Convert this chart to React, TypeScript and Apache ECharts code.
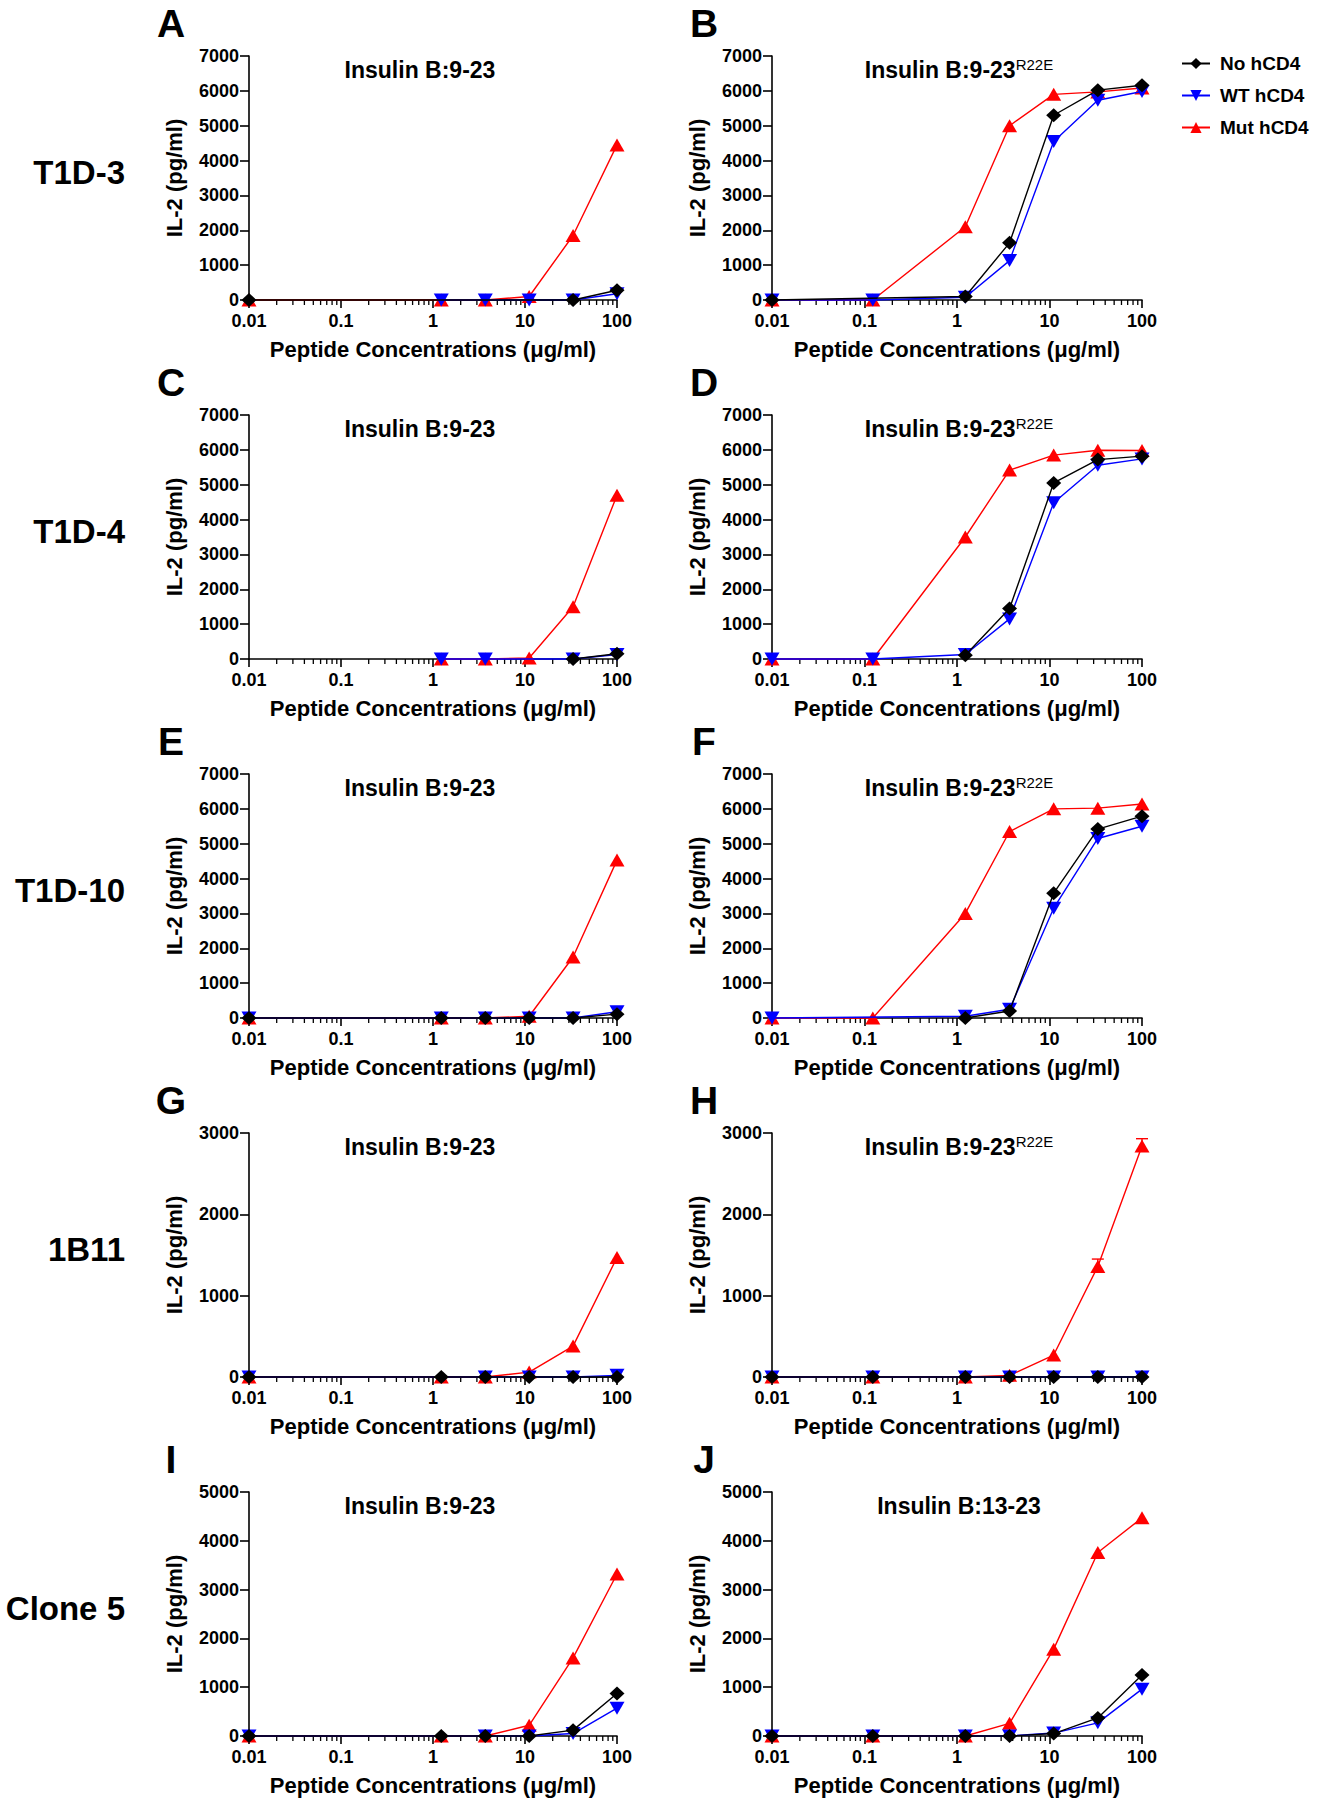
import React, { useEffect, useRef } from 'react';
import * as echarts from 'echarts';

// ---------- data ----------
const concentrations = [0.01, 0.123, 1.23, 3.7, 11.1, 33.3, 100];
const minorTickValues = [
  0.02, 0.03, 0.04, 0.05, 0.06, 0.07, 0.08, 0.09,
  0.2, 0.3, 0.4, 0.5, 0.6, 0.7, 0.8, 0.9,
  2, 3, 4, 5, 6, 7, 8, 9,
  20, 30, 40, 50, 60, 70, 80, 90,
];
const seriesNames = ['No hCD4', 'WT hCD4', 'Mut hCD4'];
const panelLetters = ['A', 'B', 'C', 'D', 'E', 'F', 'G', 'H', 'I', 'J'];
const rowLabels = ['T1D-3', 'T1D-4', 'T1D-10', '1B11', 'Clone 5'];
const panelTitleMain = [
  'Insulin B:9-23', 'Insulin B:9-23', 'Insulin B:9-23', 'Insulin B:9-23', 'Insulin B:9-23',
  'Insulin B:9-23', 'Insulin B:9-23', 'Insulin B:9-23', 'Insulin B:9-23', 'Insulin B:13-23',
];
const panelTitleSup = ['', 'R22E', '', 'R22E', '', 'R22E', '', 'R22E', '', ''];
const yMaxValues = [7000, 7000, 7000, 7000, 7000, 7000, 3000, 3000, 5000, 5000];

// values per concentration (null = no point)
const noA = [0, null, null, null, null, 0, 280];
const wtA = [null, null, 0, 0, 0, 0, 180];
const mutA = [0, null, 0, 0, 100, 1850, 4450];

const noB = [0, null, 100, 1640, 5300, 6020, 6160];
const wtB = [0, 0, 80, 1130, 4550, 5730, 5980];
const mutB = [0, 0, 2100, 5000, 5900, 5970, 6080];

const noC = [null, null, null, null, null, 0, 150];
const wtC = [null, null, 0, 0, null, 0, 130];
const mutC = [null, null, 0, 0, 30, 1500, 4700];

const noD = [null, null, 110, 1450, 5050, 5720, 5820];
const wtD = [0, 0, 130, 1150, 4480, 5560, 5740];
const mutD = [0, 0, 3500, 5420, 5850, 5990, 5980];

const noE = [0, null, 0, 0, 0, 0, 110];
const wtE = [0, null, 0, 0, 0, 0, 180];
const mutE = [0, null, 0, 0, 50, 1750, 4530];

const noF = [null, null, 0, 200, 3580, 5420, 5790];
const wtF = [0, null, 50, 250, 3150, 5150, 5500];
const mutF = [0, 0, 3000, 5350, 6000, 6020, 6140];

const noG = [0, null, 0, 0, 0, 0, 0];
const wtG = [0, null, null, 0, 0, 0, 20];
const mutG = [0, null, 0, 0, 60, 380, 1470];

const noH = [0, 0, 0, 0, 0, 0, 0];
const wtH = [0, 0, 0, 0, 0, 0, 0];
const mutH = [0, 0, 0, 20, 270, 1360, 2840];
const mutHUpper = [null, null, null, null, null, 1450, 2930];

const noI = [0, null, 0, 0, 0, 120, 870];
const wtI = [0, null, null, 0, 0, 50, 570];
const mutI = [0, null, 0, 0, 220, 1600, 3320];

const noJ = [0, 0, 0, 0, 50, 370, 1250];
const wtJ = [0, 0, 0, 0, 60, 270, 960];
const mutJ = [0, 0, 0, 260, 1780, 3760, 4470];

const panelNo = [noA, noB, noC, noD, noE, noF, noG, noH, noI, noJ];
const panelWt = [wtA, wtB, wtC, wtD, wtE, wtF, wtG, wtH, wtI, wtJ];
const panelMut = [mutA, mutB, mutC, mutD, mutE, mutF, mutG, mutH, mutI, mutJ];

// ---------- layout ----------
const FONT = 'Arial, "Liberation Sans", Helvetica, sans-serif';
const COL_LEFT = [249, 772];
const COL_WIDTH = [368, 370];
const ROW_TOP0 = 56;
const ROW_STEP = 359;
const PLOT_H = 244;
const TITLE_X = [420, 959];
const LETTER_X = [171, 704];

function toPairs(vals: (number | null)[]) {
  const out: number[][] = [];
  vals.forEach((v, j) => {
    if (v !== null && v !== undefined) out.push([concentrations[j], v]);
  });
  return out;
}

function buildOption() {
  const grids: any[] = [];
  const xAxes: any[] = [];
  const yAxes: any[] = [];
  const series: any[] = [];
  const graphics: any[] = [];

  for (let i = 0; i < 10; i++) {
    const r = Math.floor(i / 2);
    const c = i % 2;
    const top = ROW_TOP0 + ROW_STEP * r;
    grids.push({ left: COL_LEFT[c], top, width: COL_WIDTH[c], height: PLOT_H, containLabel: false });
    xAxes.push({
      type: 'log',
      logBase: 10,
      gridIndex: i,
      min: 0.01,
      max: 100,
      splitNumber: 4,
      name: 'Peptide Concentrations (\u03bcg/ml)',
      nameLocation: 'middle',
      nameGap: 38,
      nameTextStyle: { fontSize: 22, fontWeight: 'bold', color: '#000', fontFamily: FONT },
      axisLine: { show: true, onZero: false, lineStyle: { color: '#000', width: 1.6 } },
      axisTick: { show: true, length: 8, lineStyle: { color: '#000', width: 1.6 } },
      axisLabel: { fontSize: 18, fontWeight: 'bold', color: '#000', fontFamily: FONT, margin: 12 },
      splitLine: { show: false },
    });
    yAxes.push({
      type: 'value',
      gridIndex: i,
      min: 0,
      max: yMaxValues[i],
      interval: 1000,
      name: 'IL-2 (pg/ml)',
      nameLocation: 'middle',
      nameRotate: 90,
      nameGap: 64,
      nameTextStyle: { fontSize: 22, fontWeight: 'bold', color: '#000', fontFamily: FONT },
      axisLine: { show: true, lineStyle: { color: '#000', width: 1.6 } },
      axisTick: { show: true, length: 9, lineStyle: { color: '#000', width: 1.6 } },
      axisLabel: {
        fontSize: 18,
        fontWeight: 'bold',
        color: '#000',
        fontFamily: FONT,
        margin: 10,
        formatter: (v: number) => String(v),
      },
      splitLine: { show: false },
    });

    // minor log ticks
    series.push({
      type: 'custom',
      xAxisIndex: i,
      yAxisIndex: i,
      silent: true,
      clip: false,
      z: 1,
      data: minorTickValues.map((v) => [v, 0]),
      renderItem: (params: any, api: any) => {
        const p = api.coord([api.value(0), api.value(1)]);
        return {
          type: 'line',
          shape: { x1: p[0], y1: p[1], x2: p[0], y2: p[1] + 5 },
          style: { stroke: '#000', lineWidth: 1.3 },
        };
      },
    });

    // Mut (red) bottom, WT (blue), No (black) on top
    series.push({
      type: 'line',
      name: 'Mut hCD4',
      xAxisIndex: i,
      yAxisIndex: i,
      data: toPairs(panelMut[i]),
      symbol: 'triangle',
      symbolSize: [15, 13],
      clip: false,
      z: 2,
      lineStyle: { color: '#ff0000', width: 1.4 },
      itemStyle: { color: '#ff0000' },
    });
    series.push({
      type: 'line',
      name: 'WT hCD4',
      xAxisIndex: i,
      yAxisIndex: i,
      data: toPairs(panelWt[i]),
      symbol: 'triangle',
      symbolRotate: 180,
      symbolSize: [15, 13],
      clip: false,
      z: 3,
      lineStyle: { color: '#0000ff', width: 1.4 },
      itemStyle: { color: '#0000ff' },
    });
    series.push({
      type: 'line',
      name: 'No hCD4',
      xAxisIndex: i,
      yAxisIndex: i,
      data: toPairs(panelNo[i]),
      symbol: 'diamond',
      symbolSize: [15, 14],
      clip: false,
      z: 4,
      lineStyle: { color: '#000000', width: 1.4 },
      itemStyle: { color: '#000000' },
    });

    // panel title
    const sup = panelTitleSup[i];
    graphics.push({
      type: 'text',
      x: TITLE_X[c],
      y: top + 14,
      silent: true,
      style: {
        text: sup ? `{a|${panelTitleMain[i]}}{s|${sup}}` : `{a|${panelTitleMain[i]}}`,
        align: 'center',
        verticalAlign: 'middle',
        rich: {
          a: { fontSize: 23, fontWeight: 'bold', fontFamily: FONT, fill: '#000', lineHeight: 26 },
          s: { fontSize: 15, fontWeight: 'normal', fontFamily: FONT, fill: '#000', lineHeight: 16, verticalAlign: 'top' },
        },
      },
    });
    // panel letter
    graphics.push({
      type: 'text',
      x: LETTER_X[c],
      y: 23 + ROW_STEP * r,
      silent: true,
      style: {
        text: panelLetters[i],
        fontSize: 39,
        fontWeight: 'bold',
        fontFamily: FONT,
        fill: '#000',
        align: 'center',
        verticalAlign: 'middle',
      },
    });
  }

  // error bars for panel H (index 7)
  const hErr: number[][] = [];
  mutHUpper.forEach((u, j) => {
    if (u !== null) hErr.push([concentrations[j], mutH[j] as number, u]);
  });
  series.push({
    type: 'custom',
    xAxisIndex: 7,
    yAxisIndex: 7,
    silent: true,
    clip: false,
    z: 2,
    data: hErr,
    renderItem: (params: any, api: any) => {
      const pMean = api.coord([api.value(0), api.value(1)]);
      const pUp = api.coord([api.value(0), api.value(2)]);
      return {
        type: 'group',
        children: [
          { type: 'line', shape: { x1: pMean[0], y1: pMean[1], x2: pUp[0], y2: pUp[1] }, style: { stroke: '#ff0000', lineWidth: 1.4 } },
          { type: 'line', shape: { x1: pUp[0] - 6, y1: pUp[1], x2: pUp[0] + 6, y2: pUp[1] }, style: { stroke: '#ff0000', lineWidth: 1.4 } },
        ],
      };
    },
  });

  // row labels
  rowLabels.forEach((lab, r) => {
    graphics.push({
      type: 'text',
      x: 125,
      y: 172 + ROW_STEP * r,
      silent: true,
      style: {
        text: lab,
        fontSize: 33,
        fontWeight: 'bold',
        fontFamily: FONT,
        fill: '#000',
        align: 'right',
        verticalAlign: 'middle',
      },
    });
  });

  return {
    animation: false,
    backgroundColor: '#ffffff',
    grid: grids,
    xAxis: xAxes,
    yAxis: yAxes,
    series,
    graphic: graphics,
    legend: {
      data: seriesNames,
      orient: 'vertical',
      left: 1176,
      top: 49,
      itemWidth: 28,
      itemHeight: 14,
      itemGap: 13,
      textStyle: { fontSize: 19, fontWeight: 'bold', color: '#000', fontFamily: FONT, padding: [0, 0, 0, 5] },
    },
  };
}

export default function App() {
  const ref = useRef<HTMLDivElement>(null);
  useEffect(() => {
    document.body.style.margin = '0';
    if (!ref.current) return;
    const chart = echarts.init(ref.current, undefined, { renderer: 'svg' });
    chart.setOption(buildOption() as any);
    return () => {
      chart.dispose();
    };
  }, []);
  return (
    <div
      ref={ref}
      style={{ position: 'absolute', left: 0, top: 0, width: 1317, height: 1800, background: '#fff' }}
    />
  );
}
